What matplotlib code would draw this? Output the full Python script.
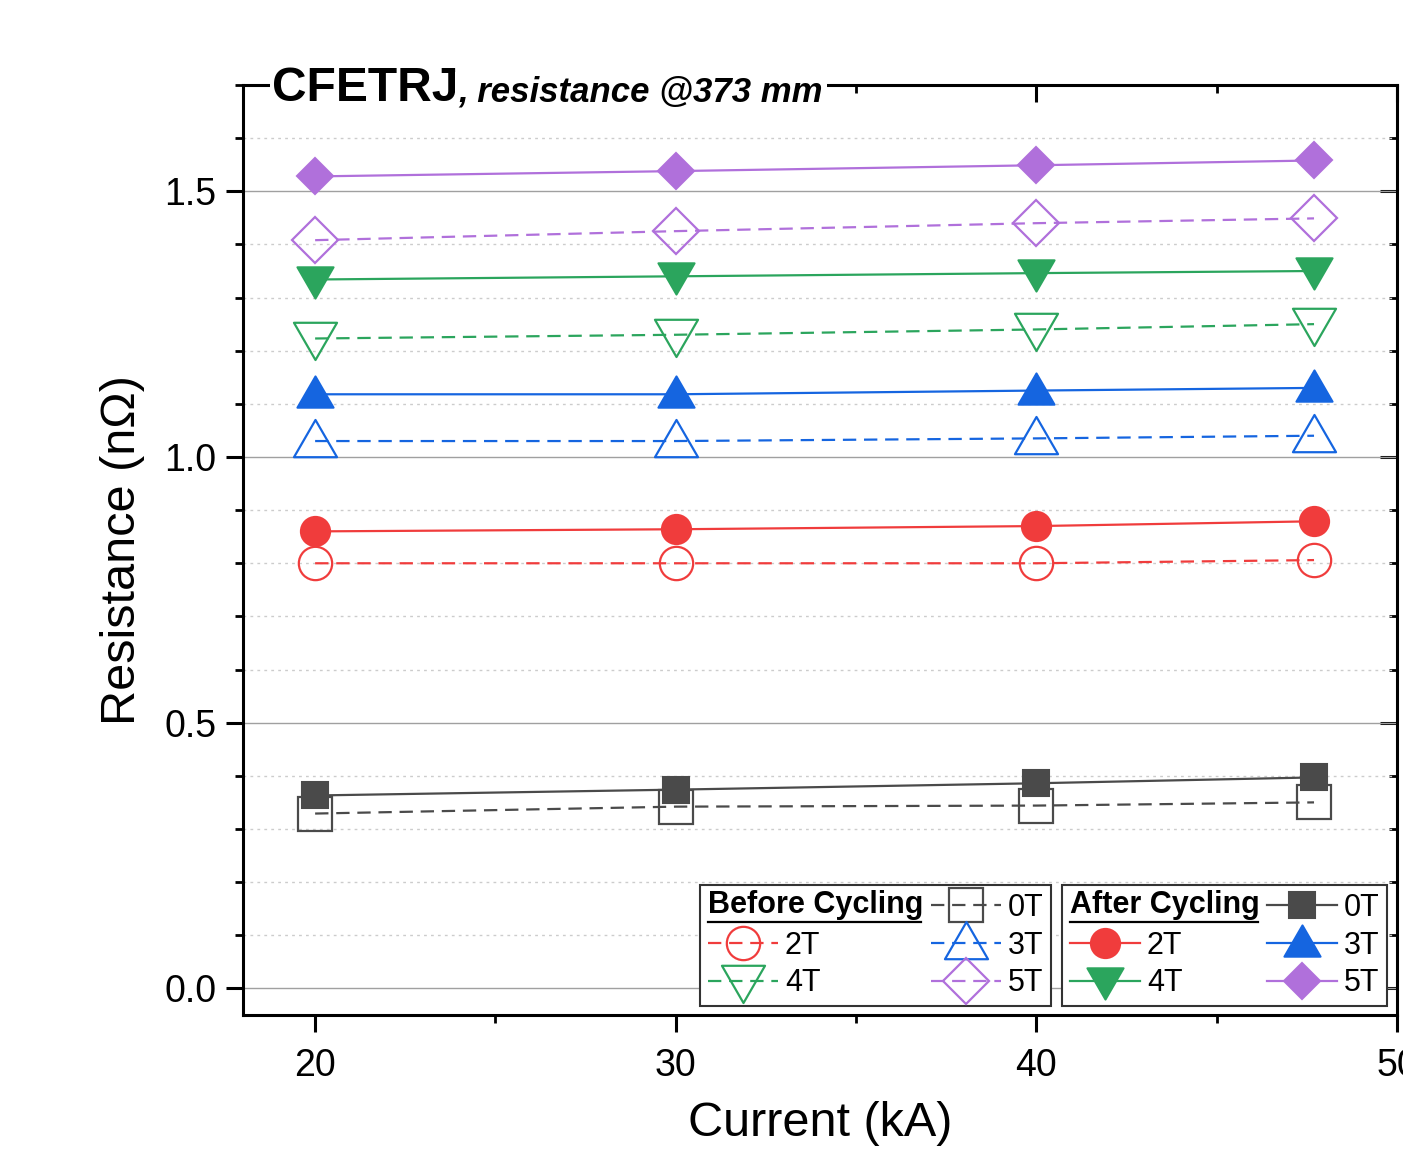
import numpy as np
import matplotlib
matplotlib.use('Agg')
import matplotlib.pyplot as plt
from matplotlib.legend_handler import HandlerBase
from matplotlib.text import Text
from matplotlib.lines import Line2D
from matplotlib.path import Path
from matplotlib.textpath import TextPath
from matplotlib.font_manager import FontProperties
from matplotlib.ticker import MultipleLocator

plt.rcParams['font.family'] = ['Liberation Sans', 'DejaVu Sans']

# data
current = [20, 30, 40, 47.7]
fields = ['0T', '2T', '3T', '4T', '5T']
before = {
    '0T': [0.329, 0.342, 0.344, 0.350],
    '2T': [0.800, 0.800, 0.800, 0.806],
    '3T': [1.030, 1.030, 1.035, 1.040],
    '4T': [1.223, 1.230, 1.240, 1.250],
    '5T': [1.408, 1.425, 1.440, 1.449],
}
after = {
    '0T': [0.363, 0.374, 0.386, 0.397],
    '2T': [0.860, 0.864, 0.870, 0.879],
    '3T': [1.118, 1.118, 1.125, 1.130],
    '4T': [1.334, 1.340, 1.346, 1.350],
    '5T': [1.528, 1.538, 1.549, 1.558],
}

# flatter triangles than matplotlib's default ones
tri_up = Path([(0, 1), (-1, -0.73), (1, -0.73), (0, 1)], closed=True)
tri_down = Path([(0, -1), (-1, 0.73), (1, 0.73), (0, -1)], closed=True)

colors = {'0T': '#4A4A4A', '2T': '#F03C3C', '3T': '#1565E0',
          '4T': '#2BA55D', '5T': '#B070DB'}
markers = {'0T': 's', '2T': 'o', '3T': tri_up, '4T': tri_down, '5T': 'D'}
ms_open = {'0T': 24, '2T': 24, '3T': 31, '4T': 31, '5T': 23}
ms_fill = {'0T': 18.5, '2T': 21, '3T': 26, '4T': 26, '5T': 18.3}


class TitleHandler(HandlerBase):
    # draws an underlined bold header in place of a legend handle
    def __init__(self, text):
        super().__init__()
        self.text = text

    def create_artists(self, legend, orig_handle, xdescent, ydescent,
                       width, height, fontsize, trans):
        fp = FontProperties(family='Liberation Sans', weight='bold', size=fontsize)
        yc = -ydescent + height / 2
        t = Text(-xdescent, yc, self.text, fontproperties=fp,
                 ha='left', va='center', transform=trans)
        w = TextPath((0, 0), self.text, prop=fp).get_extents().x1
        ln = Line2D([-xdescent, -xdescent + w], [yc - 0.56 * fontsize] * 2,
                    color='black', lw=1.6, transform=trans)
        return [t, ln]


fig = plt.figure(figsize=(14.03, 11.63), dpi=100)
ax = fig.add_axes([0.1732, 0.1273, 0.8225, 0.7996])

h_before = {}
h_after = {}
for f in fields:
    c = colors[f]
    h_before[f], = ax.plot(current, before[f], ls=(0, (6, 3.5)), lw=1.6, color=c,
                           marker=markers[f], ms=ms_open[f], mfc='none',
                           mec=c, mew=1.6, zorder=3)
for f in fields:
    c = colors[f]
    h_after[f], = ax.plot(current, after[f], ls='-', lw=1.6, color=c,
                          marker=markers[f], ms=ms_fill[f], mfc=c,
                          mec=c, mew=1.5, zorder=4)

xlim = (18, 50)
ylim = (-0.05, 1.7)
ax.set_xlim(*xlim)
ax.set_ylim(*ylim)
ax.xaxis.set_major_locator(MultipleLocator(10))
ax.xaxis.set_minor_locator(MultipleLocator(5))
ax.yaxis.set_major_locator(MultipleLocator(0.5))
ax.yaxis.set_minor_locator(MultipleLocator(0.1))

ax.set_axisbelow(True)
ax.grid(which='major', axis='y', color='#a0a0a0', lw=1.0, ls='-')
ax.grid(which='minor', axis='y', color='#cccccc', lw=1.0, ls=(0, (2, 3)))

for s in ax.spines.values():
    s.set_linewidth(2.2)
ax.tick_params(which='major', direction='out', length=12, width=2.2,
               labelsize=27)
ax.tick_params(axis='y', which='major', pad=7)
ax.tick_params(axis='x', which='major', pad=12)
ax.tick_params(which='minor', direction='out', length=6, width=2)

# inward ticks on top and right, drawn by twins kept below the main axes
axr = ax.twinx()
axr.set_ylim(*ylim)
axr.yaxis.set_major_locator(MultipleLocator(0.5))
axr.yaxis.set_minor_locator(MultipleLocator(0.1))
axr.tick_params(which='major', direction='in', length=12, width=2.2, labelright=False)
axr.tick_params(which='minor', direction='in', length=6, width=2)

axt = ax.twiny()
axt.set_xlim(*xlim)
axt.xaxis.set_major_locator(MultipleLocator(10))
axt.xaxis.set_minor_locator(MultipleLocator(5))
axt.tick_params(which='major', direction='in', length=12, width=2.2, labeltop=False)
axt.tick_params(which='minor', direction='in', length=6, width=2)

for a in (axr, axt):
    a.set_zorder(1)
    for s in a.spines.values():
        s.set_visible(False)
ax.set_zorder(2)
ax.patch.set_visible(False)

ax.set_xlabel('Current (kA)', fontsize=35, labelpad=12)
ax.set_ylabel('Resistance (n\u03a9)', fontsize=35, labelpad=14)

# title sitting on the top spine
t1 = ax.text(0.0255, 0.9828, 'CFETRJ', transform=ax.transAxes, fontsize=34.5,
             fontweight='bold', ha='left', va='baseline', zorder=10,
             bbox=dict(boxstyle='square,pad=0.05', fc='white', ec='none'))
ax.annotate(', resistance @373 mm', xy=(1, 0.9828), xycoords=(t1, 'axes fraction'),
            fontsize=25, fontweight='bold', fontstyle='italic', ha='left',
            va='baseline', zorder=10,
            bbox=dict(boxstyle='square,pad=0.1', fc='white', ec='none'))

# legends
leg_kw = dict(loc='upper left', ncol=2, fontsize=22, frameon=True,
              fancybox=False, framealpha=1, edgecolor='#333333',
              borderaxespad=0, borderpad=0.25, handlelength=2.3,
              handletextpad=0.23, labelspacing=0.26)
lb = ['', '2T', '4T', '0T', '3T', '5T']

dummy1 = object()
hb = [dummy1, h_before['2T'], h_before['4T'], h_before['0T'], h_before['3T'], h_before['5T']]
leg1 = ax.legend(hb, lb, bbox_to_anchor=(0.3960, 0.1398), columnspacing=3.6,
                 handler_map={dummy1: TitleHandler('Before Cycling')}, **leg_kw)
leg1.get_frame().set_linewidth(1.5)
ax.add_artist(leg1)

dummy2 = object()
ha = [dummy2, h_after['2T'], h_after['4T'], h_after['0T'], h_after['3T'], h_after['5T']]
leg2 = ax.legend(ha, lb, bbox_to_anchor=(0.7097, 0.1398), columnspacing=2.75,
                 handler_map={dummy2: TitleHandler('After Cycling')}, **leg_kw)
leg2.get_frame().set_linewidth(1.5)

fig.savefig('out.png', dpi=100)
